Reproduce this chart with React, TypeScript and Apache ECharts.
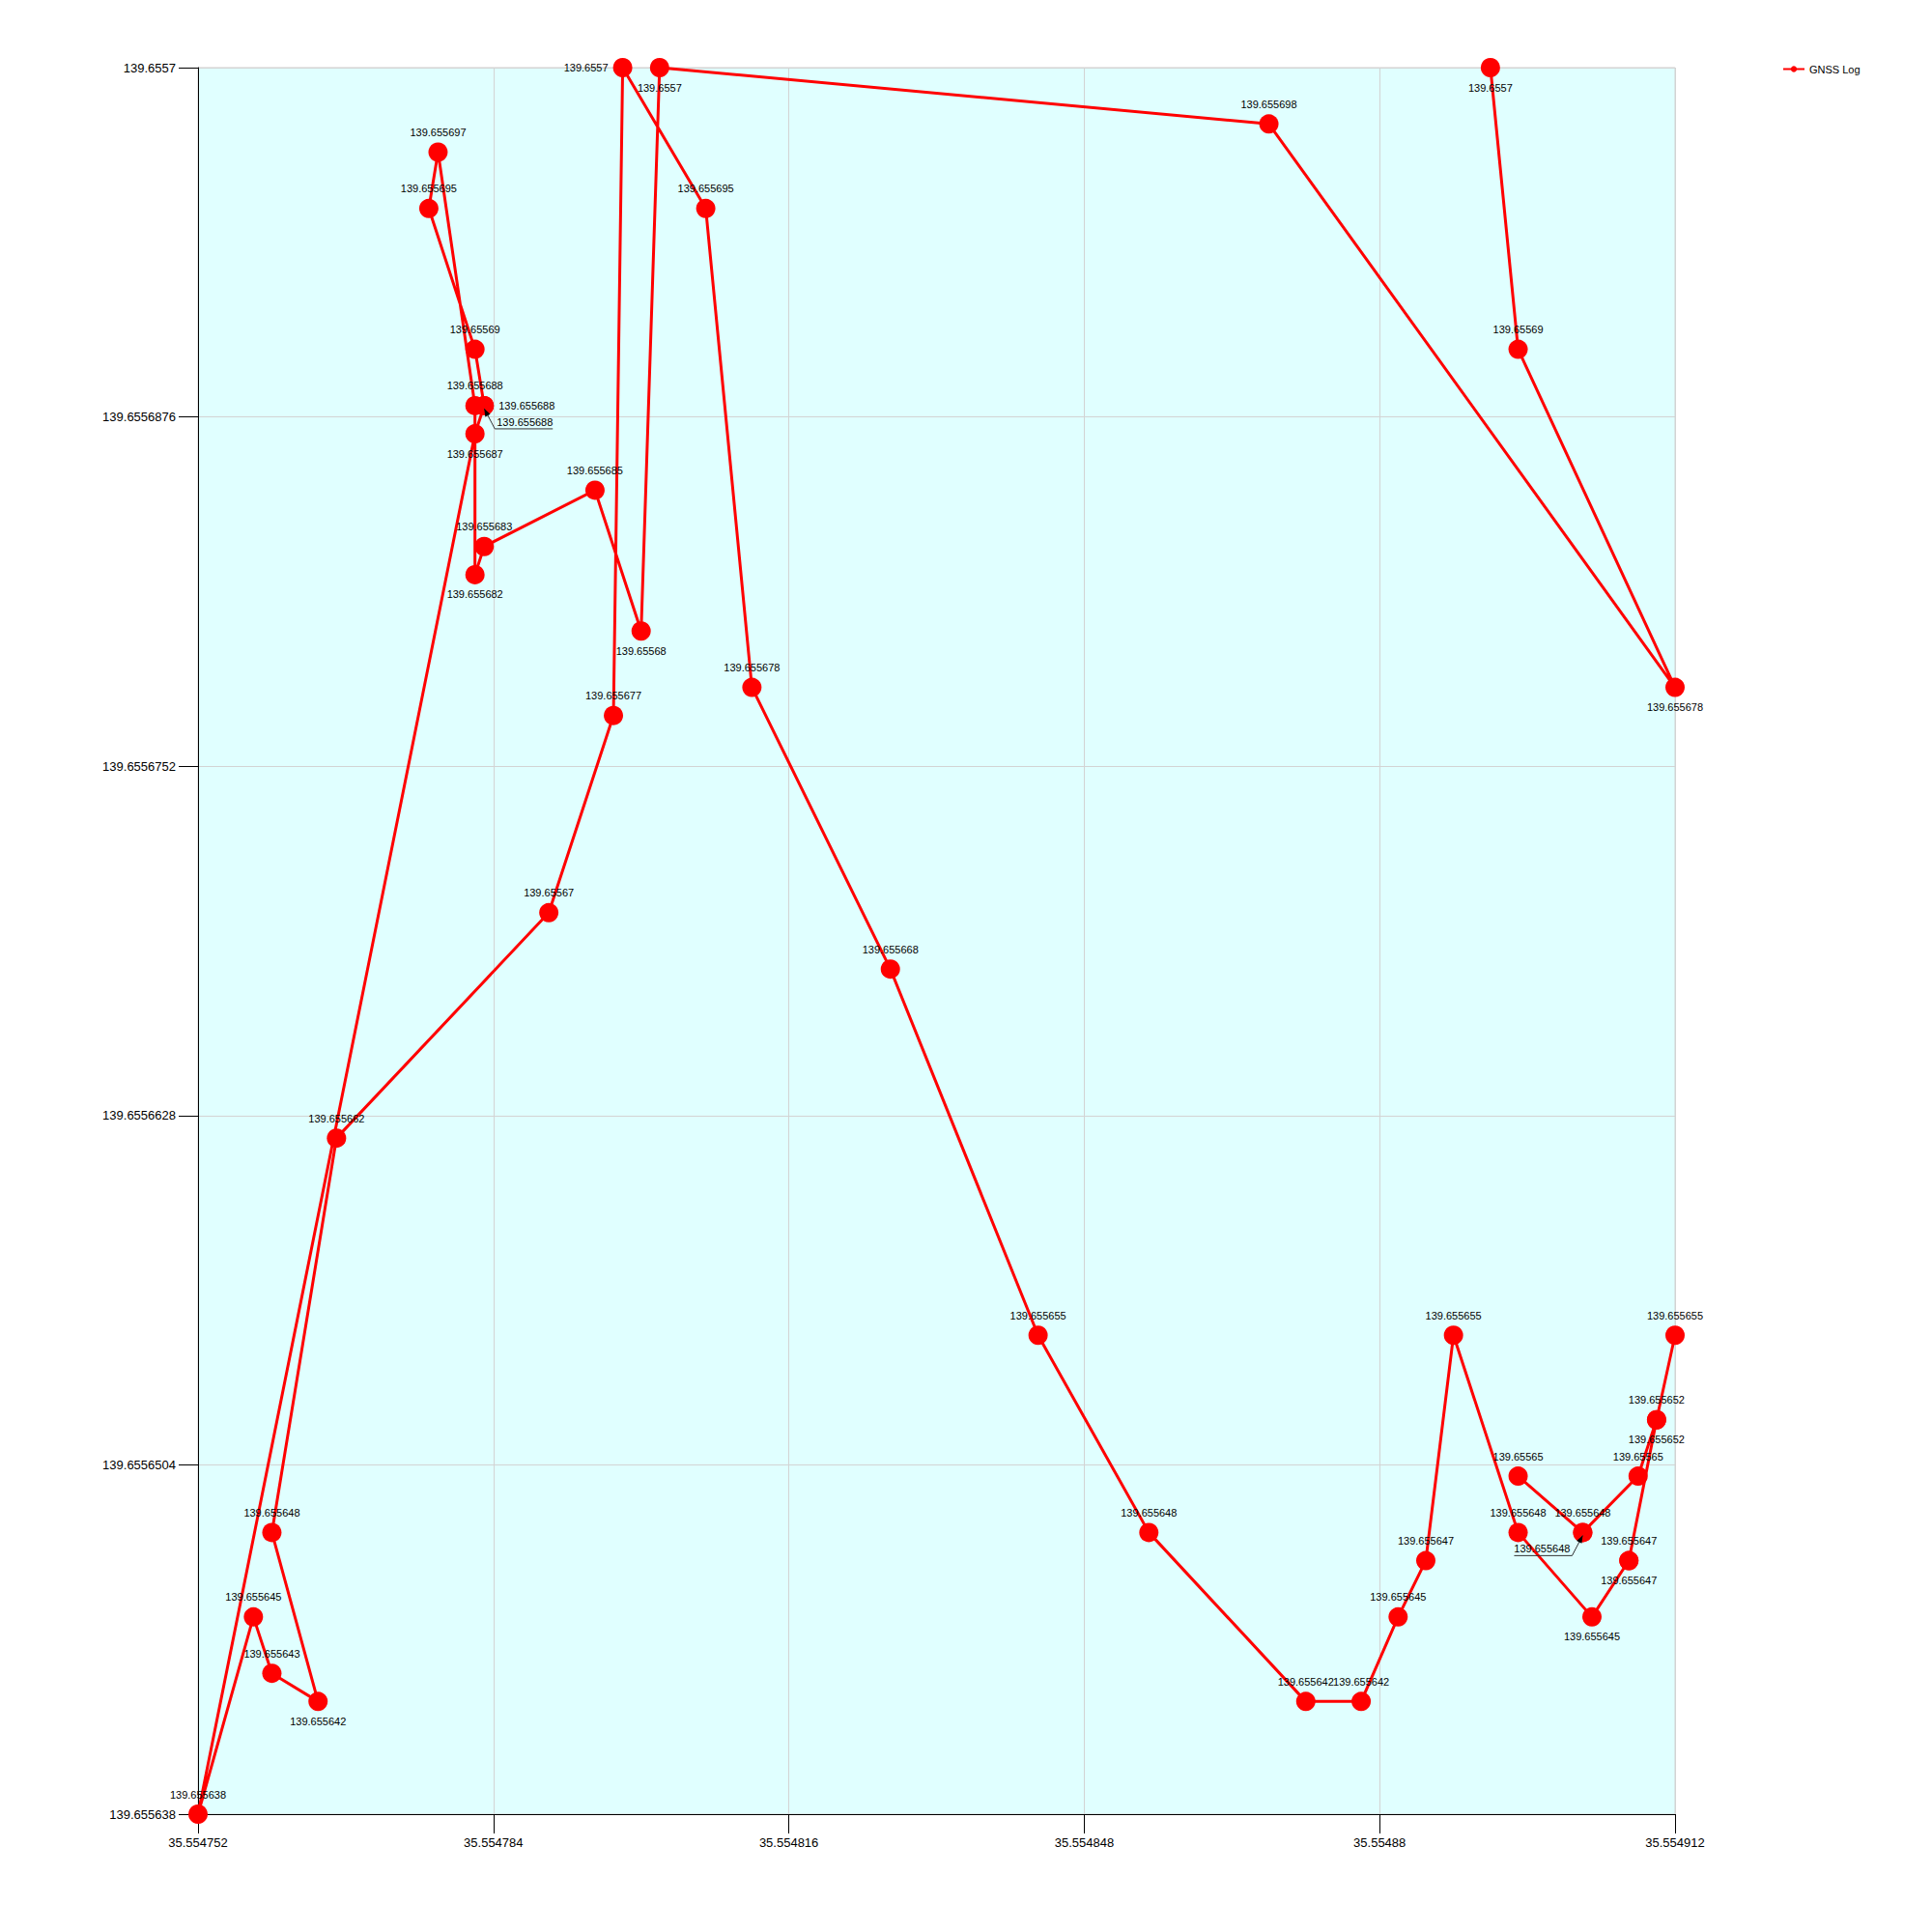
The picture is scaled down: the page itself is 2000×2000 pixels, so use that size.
import React, { useEffect, useRef } from "react";
import * as echarts from "echarts";

// Axis extents (real coordinates)
const X_MIN = 35.554752;
const X_MAX = 35.554912;
const X_STEP = 0.000032;
const Y_MIN = 139.655638;
const Y_MAX = 139.6557;
const Y_STEP = 0.0000124;

const SERIES_NAME = "GNSS Log";

// GNSS log points in path order (x = latitude, y = longitude)
const LAT = [
  35.554892, 35.554895, 35.554912, 35.554868, 35.554802, 35.5548, 35.554795, 35.554783,
  35.554782, 35.554782, 35.554778, 35.554777, 35.554782, 35.554783, 35.554783, 35.554782,
  35.554752, 35.554758, 35.55476, 35.554765, 35.55476, 35.554767, 35.55479, 35.554797,
  35.554798, 35.554807, 35.554812, 35.554827, 35.554843, 35.554855, 35.554872, 35.554878,
  35.554882, 35.554885, 35.554888, 35.554895, 35.554903, 35.554907, 35.554907, 35.55491,
  35.554912, 35.55491, 35.554908, 35.554902, 35.554902, 35.554895,
];
const LON = [
  139.6557, 139.65569, 139.655678, 139.655698, 139.6557, 139.65568, 139.655685, 139.655683,
  139.655682, 139.655688, 139.655697, 139.655695, 139.65569, 139.655688, 139.655688, 139.655687,
  139.655638, 139.655645, 139.655643, 139.655642, 139.655648, 139.655662, 139.65567, 139.655677,
  139.6557, 139.655695, 139.655678, 139.655668, 139.655655, 139.655648, 139.655642, 139.655642,
  139.655645, 139.655647, 139.655655, 139.655648, 139.655645, 139.655647, 139.655647, 139.655652,
  139.655655, 139.655652, 139.65565, 139.655648, 139.655648, 139.65565,
];
// label placement per point
const LABEL_POS = [
  "bottom", "top", "bottom", "top", "bottom", "bottom", "top", "top",
  "bottom", "top", "top", "top", "top", "right", "callout-right", "bottom",
  "top", "top", "top", "bottom", "top", "top", "top", "top",
  "left", "top", "top", "top", "top", "top", "top", "top",
  "top", "top", "top", "top", "bottom", "bottom", "top", "bottom",
  "top", "top", "top", "top", "callout-left", "top",
];

const FONT = '"Liberation Sans", Arial, sans-serif';

const toUx = (v: number) => Math.round((v - X_MIN) * 1e9) / 1e3;
const toUy = (v: number) => Math.round((v - Y_MIN) * 1e9) / 1e3;
const fmt = (v: number, d: number) => String(parseFloat(v.toFixed(d)));

export default function App() {
  const ref = useRef<HTMLDivElement>(null);

  useEffect(() => {
    if (!ref.current) return;
    const chart = echarts.init(ref.current, null, { renderer: "svg" });

    const lineData = LAT.map((x, i) => {
      const pos = LABEL_POS[i];
      const show = !pos.startsWith("callout");
      return {
        value: [toUx(x), toUy(LON[i])],
        label: show ? { show: true, position: pos } : { show: false },
      };
    });

    const calloutData = LAT.map((x, i) => ({ x, i }))
      .filter((d) => LABEL_POS[d.i].startsWith("callout"))
      .map((d) => [toUx(d.x), toUy(LON[d.i]), LABEL_POS[d.i] === "callout-right" ? 1 : -1]);

    const xRange = Math.round((X_MAX - X_MIN) * 1e9) / 1e3;
    const yRange = Math.round((Y_MAX - Y_MIN) * 1e9) / 1e3;
    const xInt = Math.round(X_STEP * 1e9) / 1e3;
    const yInt = Math.round(Y_STEP * 1e9) / 1e3;

    chart.setOption({
      animation: false,
      backgroundColor: "#ffffff",
      textStyle: { fontFamily: FONT },
      grid: {
        left: 205,
        right: 266,
        top: 70,
        bottom: 122,
        show: true,
        backgroundColor: "#e0ffff",
        borderColor: "#d3d3d3",
        borderWidth: 1,
        containLabel: false,
      },
      legend: {
        show: true,
        data: [SERIES_NAME],
        left: 1840,
        top: 61,
        itemWidth: 22,
        itemHeight: 8,
        itemGap: 5,
        textStyle: { fontSize: 11, color: "#000", fontFamily: FONT },
      },
      xAxis: {
        type: "value",
        min: 0,
        max: xRange,
        interval: xInt,
        axisLine: { show: true, onZero: false, lineStyle: { color: "#000", width: 1 } },
        axisTick: { show: true, length: 20, lineStyle: { color: "#000", width: 1 } },
        axisLabel: {
          fontSize: 13,
          color: "#000",
          fontFamily: FONT,
          margin: 23,
          formatter: (v: number) => fmt(X_MIN + v * 1e-6, 6),
        },
        splitLine: { show: true, lineStyle: { color: "#d3d3d3", width: 1 } },
      },
      yAxis: {
        type: "value",
        min: 0,
        max: yRange,
        interval: yInt,
        axisLine: { show: true, onZero: false, lineStyle: { color: "#000", width: 1 } },
        axisTick: { show: true, length: 20, lineStyle: { color: "#000", width: 1 } },
        axisLabel: {
          fontSize: 13,
          color: "#000",
          fontFamily: FONT,
          margin: 23,
          formatter: (v: number) => fmt(Y_MIN + v * 1e-6, 7),
        },
        splitLine: { show: true, lineStyle: { color: "#d3d3d3", width: 1 } },
      },
      series: [
        {
          name: SERIES_NAME,
          type: "line",
          data: lineData,
          color: "#ff0000",
          symbol: "circle",
          symbolSize: 20,
          showAllSymbol: true,
          clip: false,
          lineStyle: { color: "#ff0000", width: 3 },
          itemStyle: { color: "#ff0000" },
          label: {
            show: true,
            fontSize: 11,
            color: "#000",
            fontFamily: FONT,
            distance: 5,
            formatter: (p: any) => String(LON[p.dataIndex]),
          },
          z: 2,
        },
        {
          name: "callouts",
          type: "custom",
          data: calloutData,
          clip: false,
          z: 5,
          silent: true,
          renderItem: (params: any, api: any) => {
            const p = api.coord([api.value(0), api.value(1)]);
            const side = api.value(2) as number;
            const text = fmt(Y_MIN + (api.value(1) as number) * 1e-6, 6);
            const tip = [p[0], p[1] + 3];
            const corner = [p[0] + side * 11, p[1] + 24];
            const end = [p[0] + side * 71, p[1] + 24];
            const dx = tip[0] - corner[0];
            const dy = tip[1] - corner[1];
            const len = Math.hypot(dx, dy);
            const ux = dx / len;
            const uy = dy / len;
            const al = 8;
            const aw = 3;
            const base = [tip[0] - ux * al, tip[1] - uy * al];
            const arrow = [
              tip,
              [base[0] - uy * aw, base[1] + ux * aw],
              [base[0] + uy * aw, base[1] - ux * aw],
            ];
            return {
              type: "group",
              children: [
                {
                  type: "polyline",
                  shape: { points: [tip, corner, end] },
                  style: { stroke: "#333", lineWidth: 1, fill: null },
                },
                {
                  type: "polygon",
                  shape: { points: arrow },
                  style: { fill: "#000", stroke: null },
                },
                {
                  type: "text",
                  x: p[0] + side * 13,
                  y: p[1] + 17,
                  style: {
                    text,
                    fill: "#000",
                    fontSize: 11,
                    fontFamily: FONT,
                    align: side > 0 ? "left" : "right",
                    verticalAlign: "middle",
                  },
                },
              ],
            };
          },
        },
      ],
    });

    return () => {
      chart.dispose();
    };
  }, []);

  return (
    <div
      ref={ref}
      style={{ position: "absolute", left: 0, top: 0, width: 2000, height: 2000 }}
    />
  );
}
